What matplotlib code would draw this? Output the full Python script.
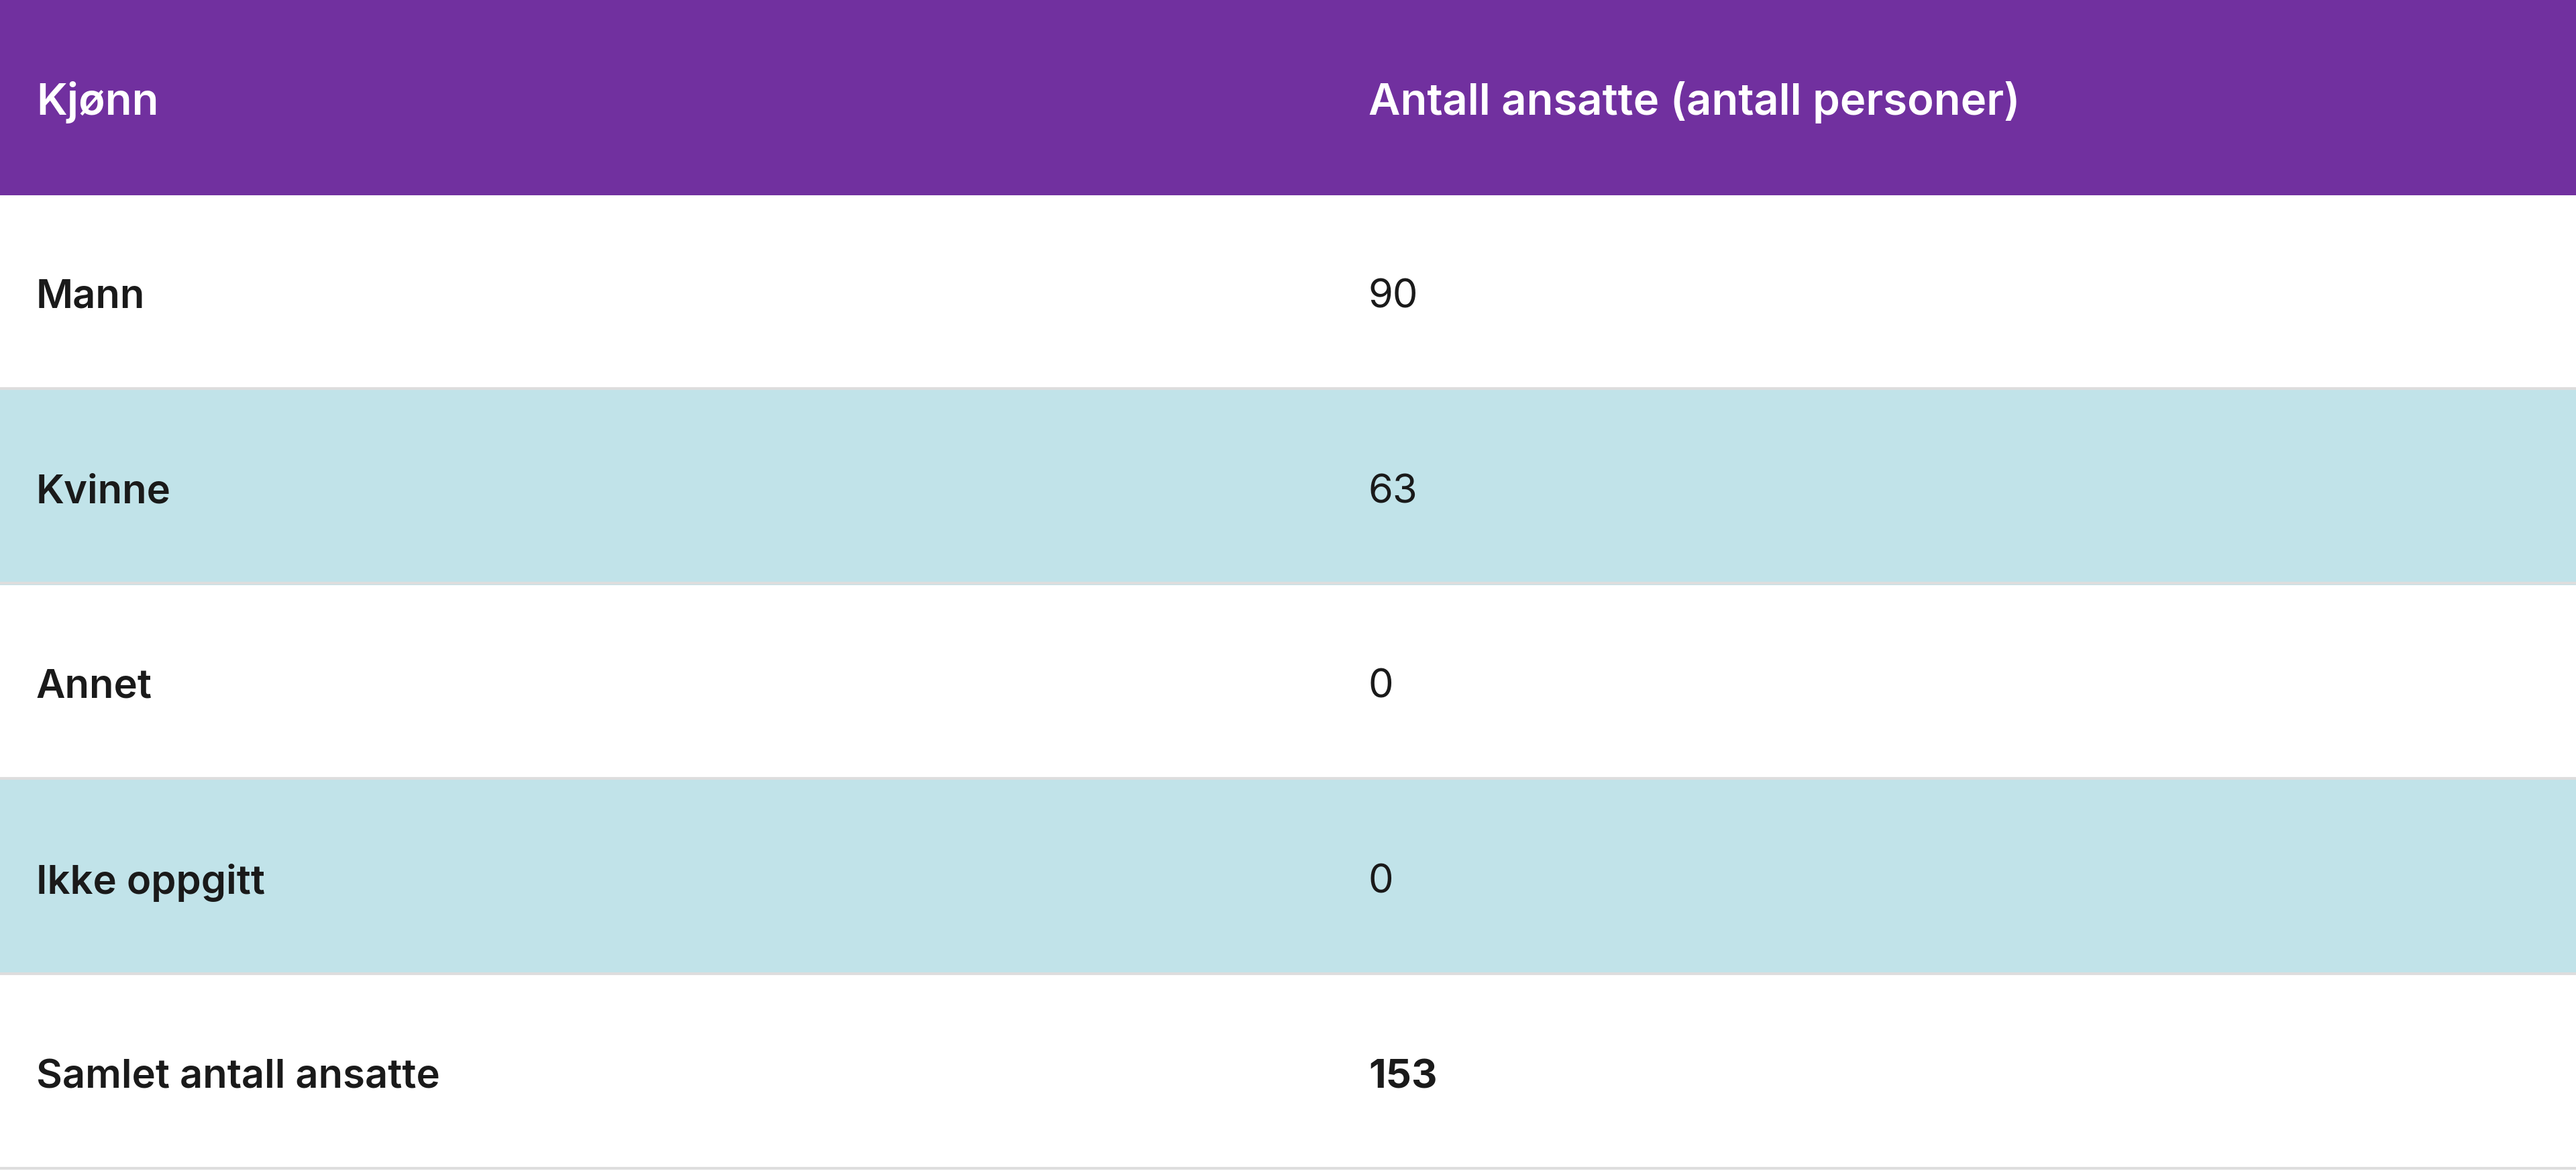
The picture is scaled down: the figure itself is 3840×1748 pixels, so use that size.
import matplotlib.pyplot as plt
import matplotlib.patches as mpatches

header = ["Kjønn", "Antall ansatte (antall personer)"]
categories = ["Mann", "Kvinne", "Annet", "Ikke oppgitt", "Samlet antall ansatte"]
values = ["90", "63", "0", "0", "153"]

W, H = 1568, 714
row_h = 118.7
purple = "#71309f"
blue = "#c1e3e9"
line = "#dddddd"
col2 = 833

plt.rcParams['font.family'] = ['Inter', 'DejaVu Sans']
fig = plt.figure(figsize=(38.4, 17.48), dpi=100)
ax = fig.add_axes([0, 0, 1, 1])
ax.set_xlim(0, W)
ax.set_ylim(H, 0)
ax.axis("off")

ax.add_patch(mpatches.Rectangle((0, 0), W, row_h, color=purple, lw=0))
ax.text(22, row_h / 2 + 3, header[0], color="white", fontsize=47, fontweight="semibold", va="center")
ax.text(col2, row_h / 2 + 3, header[1], color="white", fontsize=47, fontweight="semibold", va="center")

for i, (cat, val) in enumerate(zip(categories, values)):
    top = row_h * (i + 1)
    if i % 2 == 1:
        ax.add_patch(mpatches.Rectangle((0, top), W, row_h, color=blue, lw=0))
    ax.plot([0, W], [top + row_h - 1, top + row_h - 1], color=line, lw=3)
    yc = top + row_h / 2 + 3
    last = i == len(categories) - 1
    ax.text(22, yc, cat, color="#1a1a1a", fontsize=43, fontweight="semibold", va="center")
    ax.text(col2, yc, val, color="#1a1a1a", fontsize=43,
            fontweight="bold" if last else "normal", va="center")

fig.savefig("out.png", dpi=100, facecolor="white")
